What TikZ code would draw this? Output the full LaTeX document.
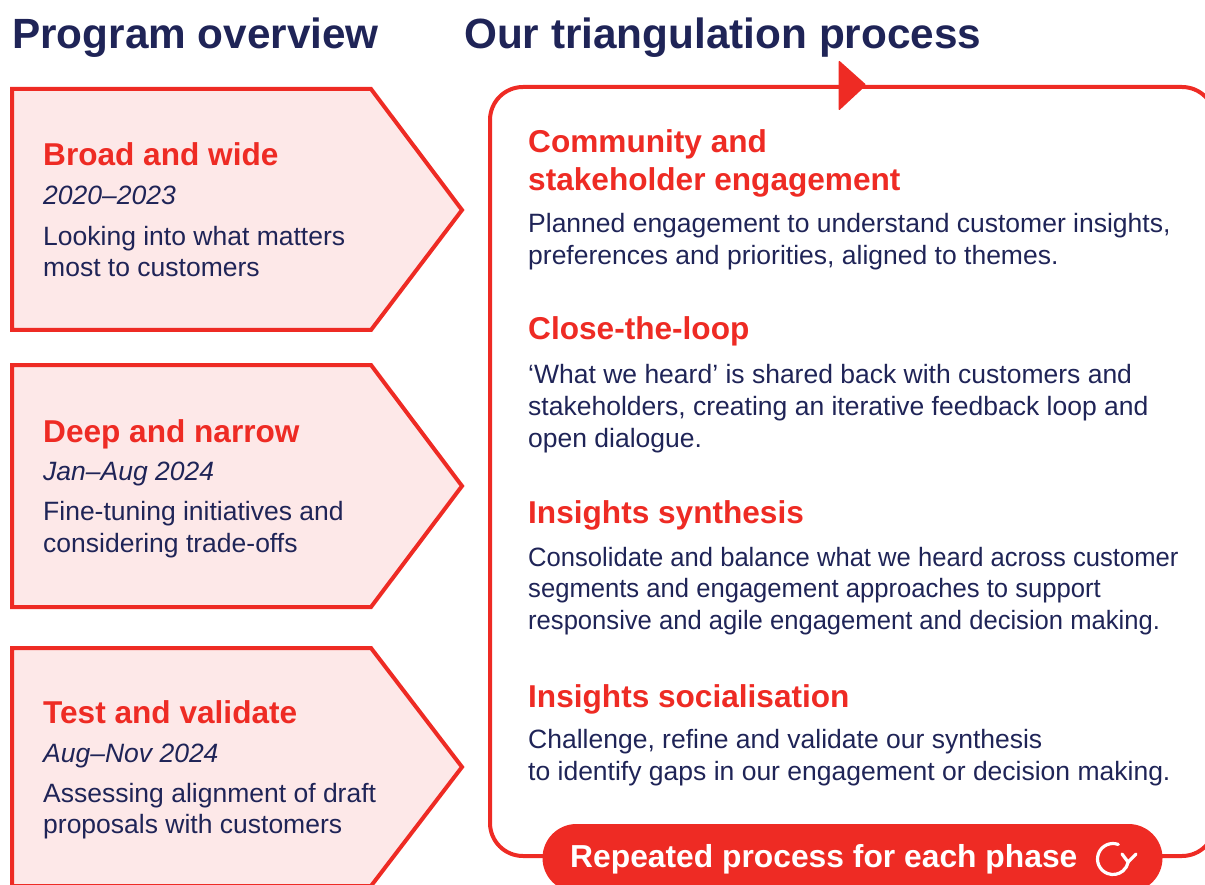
\documentclass[tikz,border=0pt]{standalone}
\usepackage{fontspec}
\usepackage{graphicx}
\setmainfont{Liberation Sans}
\definecolor{rd}{HTML}{EE2B24}
\definecolor{pk}{HTML}{FDE8E8}
\definecolor{nv}{HTML}{1F2457}
\begin{document}
\begin{tikzpicture}[x=1pt,y=-1pt,
  chev/.style={draw=rd, fill=pk, line width=4pt},
  loopbox/.style={draw=rd, line width=4pt, rounded corners=33pt, minimum width=725pt, minimum height=769pt, inner sep=0pt},
  pill/.style={fill=rd, rounded corners=34pt, minimum width=620pt, minimum height=68pt, inner sep=0pt},
  ttl/.style={anchor=base west, inner sep=0pt, text=nv, font=\fontsize{42.3}{48}\selectfont\bfseries},
  hd/.style={anchor=base west, inner sep=0pt, text=rd, font=\fontsize{31.6}{38}\selectfont\bfseries},
  dt/.style={anchor=base west, inner sep=0pt, text=nv, font=\fontsize{26.5}{32}\selectfont\itshape},
  bd/.style={anchor=base west, inner sep=0pt, text=nv, font=\fontsize{26.5}{32}\selectfont},
  pilltext/.style={anchor=base west, inner sep=0pt, text=white, font=\fontsize{31.8}{38}\selectfont\bfseries},
  icon/.style={draw=white, line width=3.2pt, line cap=round, line join=round},
]
\useasboundingbox (0,0) rectangle (1205,885);
\clip (0,0) rectangle (1205,885);

% titles
\node[ttl] (t1) at (12,49) {Program overview};
\node[ttl] (t2) at (464,49) {Our triangulation process};

% chevrons
\draw[chev] (12,89) -- (371,89) -- (462,210) -- (371,330) -- (12,330) -- cycle;
\draw[chev] (12,365) -- (371,365) -- (462,486) -- (371,607) -- (12,607) -- cycle;
\draw[chev] (12,648) -- (371,648) -- (462,767) -- (371,886) -- (12,886) -- cycle;

\node[hd] (b1h) at (43,166) {Broad and wide};
\node[dt] (b1d) at (43,205) {2020–2023};
\node[bd] (b1a) at (43,246) {Looking into what matters};
\node[bd] (b1b) at (43,277) {most to customers};

\node[hd] (b2h) at (43,442) {Deep and narrow};
\node[dt] (b2d) at (43,480) {Jan–Aug 2024};
\node[bd] (b2a) at (43,520) {Fine-tuning initiatives and};
\node[bd] (b2b) at (43,552) {considering trade-offs};

\node[hd] (b3h) at (43,723) {Test and validate};
\node[dt] (b3d) at (43,762) {Aug–Nov 2024};
\node[bd] (b3a) at (43,802) {Assessing alignment of draft};
\node[bd] (b3b) at (43,833) {proposals with customers};

% loop box
\node[loopbox] (loop) at (852.5,471.5) {};
\fill[rd, rounded corners=1.5pt] ([xshift=-14pt,yshift=25pt]loop.north) -- ([xshift=14pt]loop.north) -- ([xshift=-14pt,yshift=-26pt]loop.north) -- cycle;

% right texts
\node[hd] (r1h) at (528,153) {Community and};
\node[hd] (r1i) at (528,191) {stakeholder engagement};
\node[bd] (r1a) at (528,233) {Planned engagement to understand customer insights,};
\node[bd] (r1b) at (528,265) {preferences and priorities, aligned to themes.};

\node[hd] (r2h) at (528,340) {Close-the-loop};
\node[bd] (r2a) at (528,383) {‘What we heard’ is shared back with customers and};
\node[bd] (r2b) at (528,415) {stakeholders, creating an iterative feedback loop and};
\node[bd] (r2c) at (528,447) {open dialogue.};

\node[hd] (r3h) at (528,523) {Insights synthesis};
\node[bd] (r3a) at (528,566) {\scalebox{0.966}[1]{Consolidate and balance what we heard across customer}};
\node[bd] (r3b) at (528,597) {\scalebox{0.967}[1]{segments and engagement approaches to support}};
\node[bd] (r3c) at (528,629) {\scalebox{0.966}[1]{responsive and agile engagement and decision making.}};

\node[hd] (r4h) at (528,707) {Insights socialisation};
\node[bd] (r4a) at (528,748) {Challenge, refine and validate our synthesis};
\node[bd] (r4b) at (528,780) {to identify gaps in our engagement or decision making.};

% pill
\node[pill] (rep) at (loop.south) {};
\node[pilltext] (reptxt) at (570,867) {Repeated process for each phase};
\coordinate (ic) at (1113,859);
\draw[icon] (ic) ++(-70:15.5) arc[start angle=-70, end angle=-349, radius=15.5];
\draw[icon] (1122,854) -- (1128,862) -- (1136,854);
\end{tikzpicture}
\end{document}
